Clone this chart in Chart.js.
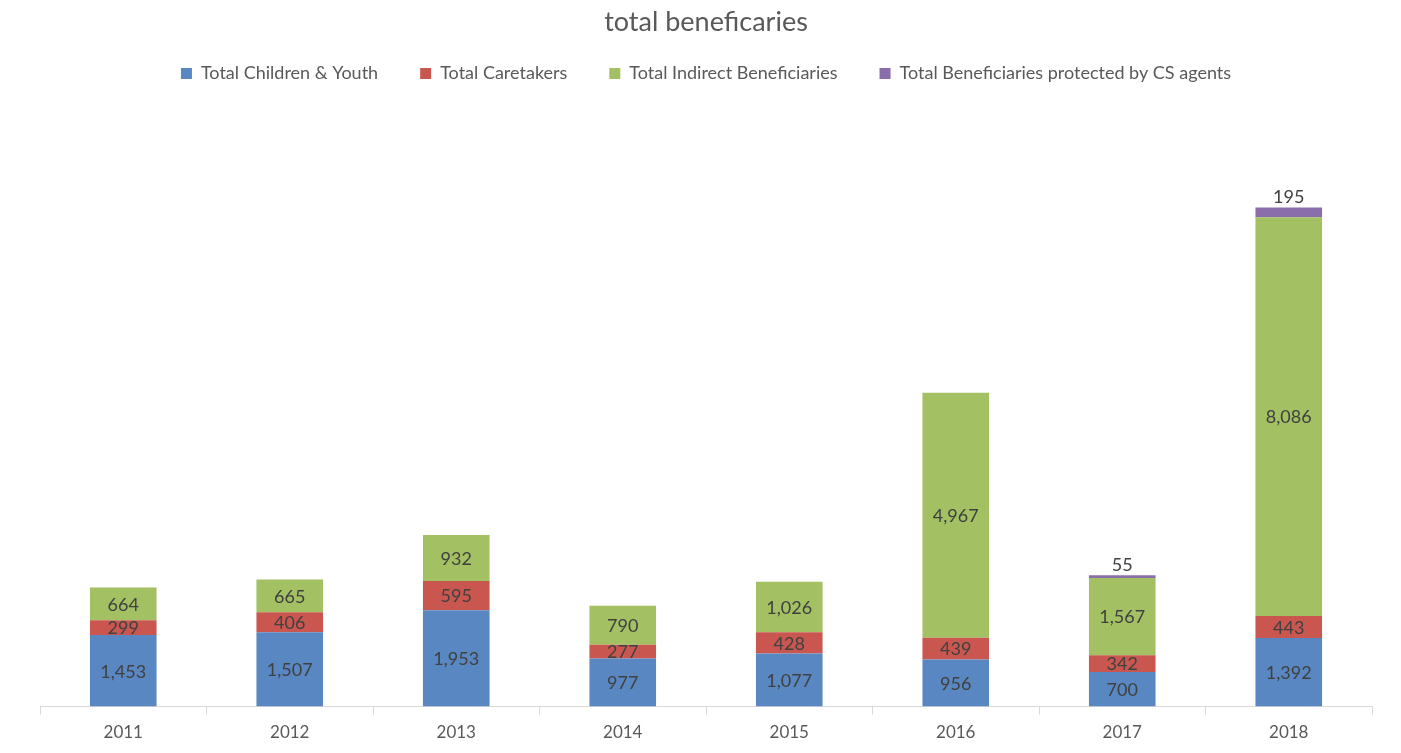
<!DOCTYPE html>
<html>
<head>
<meta charset="utf-8">
<script src="https://cdn.jsdelivr.net/npm/chart.js@4/dist/chart.umd.min.js"></script>
<style>
  html, body { margin: 0; padding: 0; background: #fff; }
  #wrap { width: 1401px; height: 753px; }
</style>
</head>
<body>
<div id="wrap"><canvas id="chart"></canvas></div>
<script>
var years = ["2011", "2012", "2013", "2014", "2015", "2016", "2017", "2018"];
var children = [1453, 1507, 1953, 977, 1077, 956, 700, 1392];
var caretakers = [299, 406, 595, 277, 428, 439, 342, 443];
var indirect = [664, 665, 932, 790, 1026, 4967, 1567, 8086];
var csAgents = [0, 0, 0, 0, 0, 0, 55, 195];

var FONT = "Lato, 'Open Sans', sans-serif";

// etiquetas de valor dentro de cada segmento (la serie morada va encima)
var valueLabels = {
  id: "valueLabels",
  afterDatasetsDraw: function (chart) {
    var c = chart.ctx;
    c.save();
    c.font = "18px " + FONT;
    c.fillStyle = "#404040";
    c.textAlign = "center";
    chart.data.datasets.forEach(function (ds, di) {
      var meta = chart.getDatasetMeta(di);
      meta.data.forEach(function (bar, i) {
        var v = ds.data[i];
        if (!v) return;
        var txt = v.toLocaleString("en-US");
        if (di === 3) {
          c.textBaseline = "bottom";
          c.fillText(txt, bar.x, bar.y - 1);
        } else {
          c.textBaseline = "middle";
          c.fillText(txt, bar.x, (bar.y + bar.base) / 2 + 1);
        }
      });
    });
    c.restore();
  }
};

new Chart(document.getElementById("chart"), {
  type: "bar",
  data: {
    labels: years,
    datasets: [
      { label: "Total Children & Youth", data: children, backgroundColor: "#5987c1" },
      { label: "Total Caretakers", data: caretakers, backgroundColor: "#c9574f" },
      { label: "Total Indirect Beneficiaries", data: indirect, backgroundColor: "#a3c063" },
      { label: "Total Beneficiaries protected by CS agents", data: csAgents, backgroundColor: "#8a6eab" }
    ]
  },
  options: {
    responsive: true,
    maintainAspectRatio: false,
    animation: false,
    layout: { padding: { left: 40, right: 29, top: 0, bottom: 2 } },
    datasets: { bar: { categoryPercentage: 1, barPercentage: 0.4 } },
    plugins: {
      title: {
        display: true,
        text: "total beneficaries",
        color: "#595959",
        font: { family: FONT, size: 27, weight: "normal" },
        padding: { top: 6, bottom: -16 }
      },
      legend: {
        position: "top",
        labels: {
          color: "#595959",
          font: { family: FONT, size: 18 },
          boxWidth: 11,
          boxHeight: 11,
          padding: 42
        }
      },
      tooltip: { enabled: false }
    },
    scales: {
      x: {
        stacked: true,
        grid: { display: true, drawOnChartArea: false, drawTicks: true, tickLength: 8, color: "#d9d9d9", offset: true },
        border: { color: "#d9d9d9" },
        ticks: { color: "#595959", font: { family: FONT, size: 17 }, padding: 8 }
      },
      y: {
        stacked: true,
        display: false,
        min: 0,
        max: 12450
      }
    }
  },
  plugins: [valueLabels]
});
</script>
</body>
</html>
